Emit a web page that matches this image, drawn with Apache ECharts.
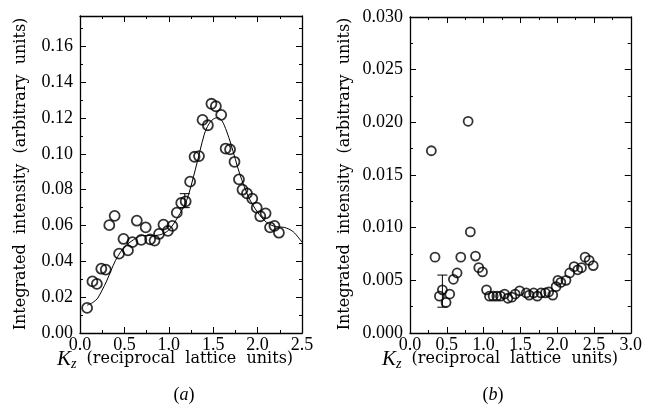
<!DOCTYPE html>
<html><head><meta charset="utf-8">
<script src="https://cdn.jsdelivr.net/npm/echarts@6/dist/echarts.min.js"></script>
<style>html,body{margin:0;padding:0;background:#fff}#c{width:645px;height:405px}</style>
</head><body><div id="c"></div>
<script>
// Panel (a): measured points
const aX = [0.08,0.14,0.19,0.24,0.29,0.33,0.39,0.44,0.49,0.54,0.59,0.64,0.69,0.74,0.79,0.84,0.89,0.94,0.99,1.04,1.09,1.14,1.19,1.24,1.29,1.34,1.38,1.44,1.48,1.53,1.59,1.64,1.69,1.74,1.79,1.83,1.88,1.94,1.99,2.03,2.09,2.14,2.19,2.24];
const aY = [0.014,0.0288,0.0274,0.0359,0.0354,0.0602,0.0654,0.0443,0.0525,0.0461,0.0507,0.0627,0.052,0.059,0.0523,0.0516,0.0553,0.0605,0.057,0.0598,0.0672,0.0726,0.0735,0.0845,0.0984,0.0988,0.119,0.116,0.128,0.1266,0.1218,0.103,0.1025,0.0956,0.0858,0.080,0.078,0.075,0.070,0.0652,0.0668,0.059,0.0598,0.056];
// Panel (a): fitted curve
const fitX = [0.08,0.15,0.2,0.25,0.3,0.35,0.4,0.45,0.5,0.6,0.7,0.8,0.9,1.0,1.1,1.2,1.3,1.4,1.45,1.5,1.55,1.6,1.65,1.7,1.8,1.9,2.0,2.1,2.2,2.3,2.4,2.5];
const fitY = [0.0155,0.0172,0.0195,0.024,0.029,0.035,0.0405,0.0447,0.048,0.052,0.0544,0.0544,0.0548,0.0575,0.0646,0.0739,0.0915,0.111,0.1166,0.1194,0.1203,0.1184,0.1128,0.1054,0.0887,0.0757,0.0674,0.0618,0.0594,0.059,0.0566,0.0507];
// Panel (a): error bar [x, low, high]
const aErr = [[1.18, 0.0700, 0.0778]];
// Panel (b): measured points
const bX = [0.29,0.34,0.40,0.44,0.49,0.54,0.59,0.64,0.69,0.79,0.82,0.89,0.935,0.985,1.04,1.08,1.13,1.18,1.23,1.285,1.33,1.385,1.43,1.49,1.58,1.62,1.68,1.73,1.78,1.84,1.885,1.94,1.985,2.01,2.05,2.12,2.17,2.23,2.28,2.33,2.38,2.435,2.49];
const bY = [0.0173,0.0072,0.0035,0.0041,0.0029,0.0037,0.0051,0.0057,0.0072,0.0201,0.0096,0.0073,0.0062,0.0058,0.0041,0.0035,0.0035,0.0035,0.0035,0.0037,0.0033,0.0034,0.0037,0.0040,0.0038,0.0036,0.0038,0.0035,0.0038,0.0038,0.0039,0.0036,0.0044,0.0050,0.0048,0.0050,0.0057,0.0063,0.0060,0.0062,0.0072,0.0069,0.0064];
// Panel (b): error bar [x, low, high]
const bErr = [[0.44, 0.00245, 0.0055]];
// Tick setup
const xInterval = 0.5;
const aYInterval = 0.02, bYInterval = 0.005;
const aXMax = 2.5, bXMax = 3.0, aYMax = 0.177, bYMax = 0.030;

const TICKFONT = 'Liberation Serif';
const FONT = 'DejaVu Serif';
const INK = '#000';

function axisBase(pos, min, max, interval, grid, showLabel, digits, margin) {
  return {
    type: 'value', gridIndex: grid, position: pos, min: min, max: max, interval: interval,
    axisLine: {show: true, onZero: false, lineStyle: {color: INK, width: 1.3}},
    axisTick: {show: true, inside: true, length: 6, lineStyle: {color: INK, width: 1}},
    minorTick: {show: true, splitNumber: 2, length: 3, lineStyle: {color: INK, width: 1}},
    splitLine: {show: false}, minorSplitLine: {show: false},
    axisLabel: {show: showLabel, color: INK, fontFamily: TICKFONT, fontSize: 18, margin: margin,
      showMaxLabel: true,
      formatter: v => v.toFixed(digits)}
  };
}

const xAxes = [
  axisBase('bottom', 0, aXMax, xInterval, 0, true, 1, 3),
  axisBase('top', 0, aXMax, xInterval, 0, false, 1, 3),
  axisBase('bottom', 0, bXMax, xInterval, 1, true, 1, 3),
  axisBase('top', 0, bXMax, xInterval, 1, false, 1, 3)
];
const yAxes = [
  axisBase('left', 0, aYMax, aYInterval, 0, true, 2, 7),
  axisBase('right', 0, aYMax, aYInterval, 0, false, 2, 7),
  axisBase('left', 0, bYMax, bYInterval, 1, true, 3, 7),
  axisBase('right', 0, bYMax, bYInterval, 1, false, 3, 7)
];
yAxes[0].axisLabel.showMaxLabel = false;

function zip(xs, ys) { return xs.map((x, i) => [x, ys[i]]); }

function errRender(params, api) {
  const x = api.value(0), lo = api.value(1), hi = api.value(2);
  const p1 = api.coord([x, lo]), p2 = api.coord([x, hi]);
  const w = 5;
  const st = {stroke: INK, lineWidth: 1};
  return {type: 'group', children: [
    {type: 'line', shape: {x1: p1[0], y1: p1[1], x2: p2[0], y2: p2[1]}, style: st},
    {type: 'line', shape: {x1: p1[0] - w, y1: p1[1], x2: p1[0] + w, y2: p1[1]}, style: st},
    {type: 'line', shape: {x1: p2[0] - w, y1: p2[1], x2: p2[0] + w, y2: p2[1]}, style: st}
  ]};
}

const circle = (size) => ({
  type: 'scatter', symbol: 'circle', symbolSize: size,
  itemStyle: {color: 'rgba(255,255,255,0)', borderColor: INK, borderWidth: 1.8},
  emphasis: {disabled: true}, silent: true
});

const titleStyle = {fill: INK, font: '16px "' + FONT + '"', textAlign: 'center', textVerticalAlign: 'middle'};
const kzRich = {k: {fontFamily: 'Liberation Serif', fontStyle: 'italic', fontSize: 21, fill: INK},
                z: {fontFamily: 'Liberation Serif', fontStyle: 'italic', fontSize: 14, fill: INK, padding: [10, 0, 0, 0]},
                r: {fontFamily: FONT, fontSize: 16, fill: INK}};

const option = {
  animation: false,
  backgroundColor: '#fff',
  grid: [
    {left: 80, top: 16, width: 222, height: 317},
    {left: 410, top: 17, width: 223, height: 316}
  ],
  xAxis: xAxes,
  yAxis: yAxes,
  series: [
    {type: 'line', xAxisIndex: 0, yAxisIndex: 0, data: zip(fitX, fitY), smooth: 0.3,
      showSymbol: false, symbol: 'none', lineStyle: {color: INK, width: 1}, silent: true, z: 1},
    Object.assign(circle(10), {xAxisIndex: 0, yAxisIndex: 0, data: zip(aX, aY), z: 3}),
    {type: 'custom', xAxisIndex: 0, yAxisIndex: 0, data: aErr, renderItem: errRender, silent: true, z: 2},
    Object.assign(circle(9), {xAxisIndex: 2, yAxisIndex: 2, data: zip(bX, bY), z: 3}),
    {type: 'custom', xAxisIndex: 2, yAxisIndex: 2, data: bErr, renderItem: errRender, silent: true, z: 2}
  ],
  graphic: [
    {type: 'text', x: 21, y: 174, rotation: Math.PI / 2,
      style: Object.assign({text: 'Integrated  intensity  (arbitrary  units)'}, titleStyle)},
    {type: 'text', x: 345, y: 174, rotation: Math.PI / 2,
      style: Object.assign({text: 'Integrated  intensity  (arbitrary  units)'}, titleStyle)},
    {type: 'text', x: 175, y: 359,
      style: {text: '{k|K}{z|z}{r|  (reciprocal  lattice  units)}', textAlign: 'center', textVerticalAlign: 'middle', rich: kzRich}},
    {type: 'text', x: 500, y: 359,
      style: {text: '{k|K}{z|z}{r|  (reciprocal  lattice  units)}', textAlign: 'center', textVerticalAlign: 'middle', rich: kzRich}},
    {type: 'text', x: 184, y: 395,
      style: {text: '({i|a})', textAlign: 'center', textVerticalAlign: 'middle', font: '18px "Liberation Serif"', fill: INK,
        rich: {i: {fontFamily: 'Liberation Serif', fontStyle: 'italic', fontSize: 18, fill: INK}}}},
    {type: 'text', x: 493, y: 395,
      style: {text: '({i|b})', textAlign: 'center', textVerticalAlign: 'middle', font: '18px "Liberation Serif"', fill: INK,
        rich: {i: {fontFamily: 'Liberation Serif', fontStyle: 'italic', fontSize: 18, fill: INK}}}}
  ]
};
const chart = echarts.init(document.getElementById('c'));
chart.setOption(option);
</script>
</body></html>
